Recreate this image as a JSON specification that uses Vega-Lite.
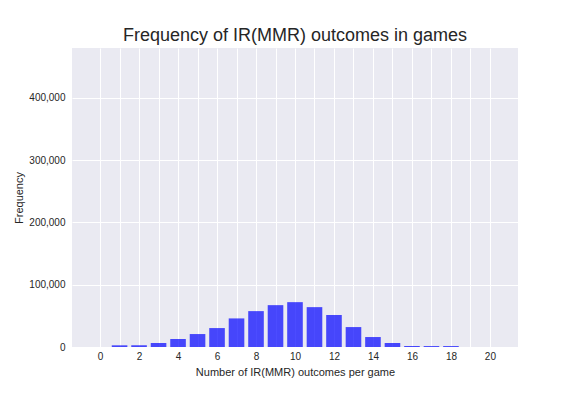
{
  "$schema": "https://vega.github.io/schema/vega-lite/v6.json",
  "width": 446,
  "height": 299,
  "autosize": "none",
  "padding": {"left": 72, "top": 48, "right": 58, "bottom": 49},
  "background": "white",
  "title": {
    "text": "Frequency of IR(MMR) outcomes in games",
    "fontSize": 18,
    "font": "Liberation Sans",
    "fontWeight": "normal",
    "color": "#262626",
    "anchor": "middle",
    "baseline": "alphabetic",
    "offset": -11
  },
  "data": {
    "values": [
      {"outcomes": 0, "frequency": 0},
      {"outcomes": 1, "frequency": 2700},
      {"outcomes": 2, "frequency": 2800},
      {"outcomes": 3, "frequency": 6400},
      {"outcomes": 4, "frequency": 12800},
      {"outcomes": 5, "frequency": 20800},
      {"outcomes": 6, "frequency": 30400},
      {"outcomes": 7, "frequency": 45900},
      {"outcomes": 8, "frequency": 57600},
      {"outcomes": 9, "frequency": 67200},
      {"outcomes": 10, "frequency": 72000},
      {"outcomes": 11, "frequency": 64000},
      {"outcomes": 12, "frequency": 51200},
      {"outcomes": 13, "frequency": 32000},
      {"outcomes": 14, "frequency": 16000},
      {"outcomes": 15, "frequency": 6400},
      {"outcomes": 16, "frequency": 1600},
      {"outcomes": 17, "frequency": 1500},
      {"outcomes": 18, "frequency": 1500},
      {"outcomes": 19, "frequency": 0},
      {"outcomes": 20, "frequency": 0}
    ]
  },
  "mark": {"type": "bar", "color": "#0000ff", "opacity": 0.7, "width": 15.6},
  "encoding": {
    "x": {
      "field": "outcomes",
      "type": "quantitative",
      "scale": {"domain": [-1.44, 21.44], "nice": false, "zero": false, "padding": 0},
      "axis": {
        "title": "Number of IR(MMR) outcomes per game",
        "values": [0,1,2,3,4,5,6,7,8,9,10,11,12,13,14,15,16,17,18,19,20],
        "labelExpr": "datum.value % 2 == 0 ? datum.label : ''",
        "labelPadding": 4,
        "titlePadding": 5
      }
    },
    "y": {
      "field": "frequency",
      "type": "quantitative",
      "scale": {"domain": [0, 480000], "nice": false},
      "axis": {
        "title": "Frequency",
        "values": [0, 100000, 200000, 300000, 400000],
        "labelExpr": "format(datum.value, ',d')",
        "labelPadding": 7,
        "titlePadding": 4
      }
    }
  },
  "config": {
    "view": {"stroke": null, "fill": "#EAEAF2"},
    "font": "Liberation Sans",
    "axis": {
      "domain": false,
      "ticks": false,
      "grid": true,
      "gridColor": "white",
      "gridWidth": 1,
      "gridOpacity": 1,
      "labelFont": "Liberation Sans",
      "labelFontSize": 10,
      "labelColor": "#262626",
      "titleFont": "Liberation Sans",
      "titleFontSize": 11,
      "titleFontWeight": "normal",
      "titleColor": "#262626"
    }
  }
}
